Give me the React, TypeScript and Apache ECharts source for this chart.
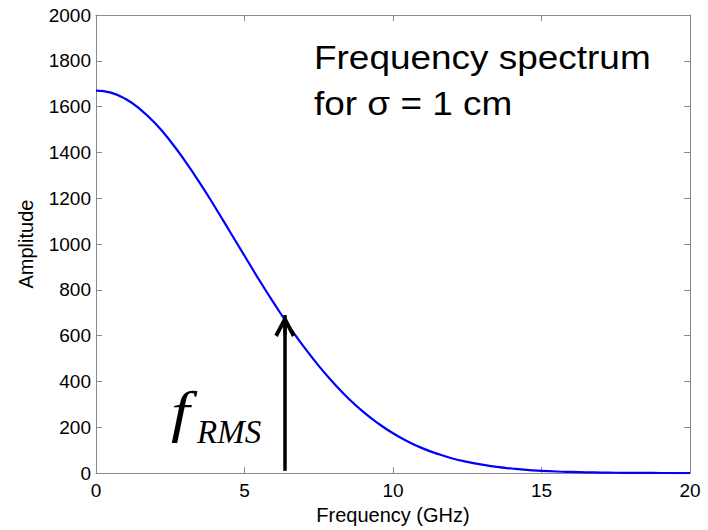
import React, { useEffect, useRef } from "react";
import * as echarts from "echarts";

const frequencies = [0, 0.5, 1, 1.5, 2, 2.5, 3, 3.5, 4, 4.5, 5, 5.5, 6, 6.5, 7, 7.5, 8, 8.5, 9, 9.5, 10, 10.5, 11, 11.5, 12, 12.5, 13, 13.5, 14, 14.5, 15, 15.5, 16, 16.5, 17, 17.5, 18, 18.5, 19, 19.5, 20];
const amplitudes = [1670, 1661, 1633, 1587, 1526, 1450, 1362, 1266, 1163, 1056, 949, 842, 740, 642, 551, 468, 393, 326, 267, 217, 174, 138, 108, 84, 64, 49, 37, 27, 20, 14, 10, 7, 5, 3.5, 2.4, 1.6, 1.1, 0.7, 0.5, 0.3, 0.2];
const arrowX = 6.36;
const arrowBottom = 10;
const arrowTip = 690;
const headCenter = 642.6;

const CHEVRON = "path://M10,0 L20,17.5 L16.8,19.5 L10,7.5 L3.2,19.5 L0,17.5 Z";

export default function App() {
  const ref = useRef<HTMLDivElement>(null);
  useEffect(() => {
    if (!ref.current) return;
    const chart = echarts.init(ref.current, null, { renderer: "svg" });
    const axisColor = "#8a8a8a";
    const baseAxis = {
      axisLine: { show: true, onZero: false, lineStyle: { color: axisColor, width: 1 } },
      axisTick: { show: true, inside: true, length: 6, lineStyle: { color: axisColor } },
      splitLine: { show: false },
    };
    chart.setOption({
      animation: false,
      backgroundColor: "#fff",
      grid: { left: 96, right: 18, top: 15, bottom: 51 },
      xAxis: [
        {
          ...baseAxis,
          type: "value",
          min: 0,
          max: 20,
          interval: 5,
          position: "bottom",
          name: "Frequency (GHz)",
          nameLocation: "middle",
          nameGap: 29,
          nameTextStyle: { fontFamily: "Liberation Sans", fontSize: 20, color: "#000" },
          axisLabel: { fontFamily: "Liberation Sans", fontSize: 19, color: "#000", margin: 8 },
        },
        {
          ...baseAxis,
          type: "value",
          min: 0,
          max: 20,
          interval: 5,
          position: "top",
          axisLabel: { show: false },
        },
      ],
      yAxis: [
        {
          ...baseAxis,
          type: "value",
          min: 0,
          max: 2000,
          interval: 200,
          position: "left",
          name: "Amplitude",
          nameLocation: "middle",
          nameGap: 60,
          nameTextStyle: { fontFamily: "Liberation Sans", fontSize: 20, color: "#000" },
          axisLabel: {
            fontFamily: "Liberation Sans",
            fontSize: 19,
            color: "#000",
            margin: 5,
            formatter: (v: number) => String(v),
          },
        },
        {
          ...baseAxis,
          type: "value",
          min: 0,
          max: 2000,
          interval: 200,
          position: "right",
          axisLabel: { show: false },
        },
      ],
      series: [
        {
          type: "line",
          data: frequencies.map((f, i) => [f, amplitudes[i]]),
          smooth: true,
          showSymbol: false,
          symbol: "none",
          lineStyle: { color: "#0000ff", width: 2.2 },
          markLine: {
            silent: true,
            symbol: ["none", "none"],
            label: { show: false },
            lineStyle: { color: "#000", width: 3.5, type: "solid" },
            data: [
              [
                { coord: [arrowX, arrowBottom], symbol: "none" },
                { coord: [arrowX, arrowTip], symbol: "none" },
              ],
              [
                { coord: [arrowX, headCenter - 40], symbol: "none" },
                {
                  coord: [arrowX, headCenter],
                  symbol: CHEVRON,
                  symbolSize: [21, 22],
                },
              ],
            ],
          },
        },
      ],
      graphic: [
        {
          type: "text",
          x: 314,
          y: 34,
          scaleX: 1.12,
          style: {
            text: "Frequency spectrum\nfor σ = 1 cm",
            font: '33px "Liberation Sans"',
            fill: "#000",
            lineHeight: 46,
          },
        },
        {
          type: "text",
          x: 171,
          y: 384,
          scaleX: 1.2,
          style: {
            text: "f",
            font: 'italic 56px "Liberation Serif"',
            fill: "#000",
          },
        },
        {
          type: "text",
          x: 197,
          y: 415,
          style: {
            text: "RMS",
            font: 'italic 33px "Liberation Serif"',
            fill: "#000",
          },
        },
      ],
    });
    return () => chart.dispose();
  }, []);
  return (
    <div
      ref={ref}
      style={{ position: "fixed", left: 0, top: 0, width: 708, height: 530 }}
    />
  );
}
